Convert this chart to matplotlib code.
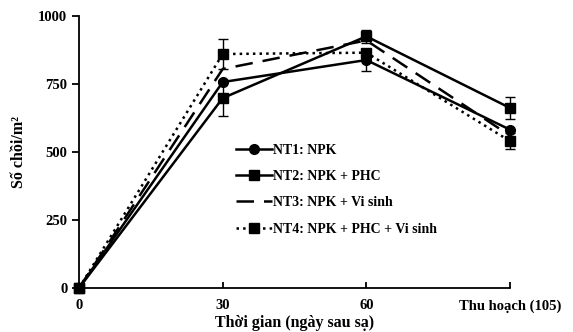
import matplotlib.pyplot as plt
from matplotlib.lines import Line2D
import numpy as np

plt.rcParams['font.family'] = 'Liberation Serif'
plt.rcParams['font.weight'] = 'bold'

# thoi diem (ngay sau sa)
nhan_x = ['0', '30', '60', 'Thu hoạch (105)']
x = np.arange(len(nhan_x))

nt1 = [0, 757, 838, 582]
nt2 = [0, 698, 925, 662]
nt3 = [0, 805, 910, 560]
nt4 = [0, 860, 865, 540]

sai1 = [0, 0, 40, 0]
sai2 = [0, 65, 25, 40]
sai4 = [0, 55, 0, 30]

fig = plt.figure(figsize=(5.73, 3.32), dpi=100)
ax = fig.add_axes([0.138, 0.1325, 0.752, 0.8195])

kw = dict(color='black', lw=1.8, capsize=3.5, elinewidth=1, capthick=1)
for art in [ax.errorbar(x, nt1, yerr=sai1, marker='o', ms=7, **kw),
            ax.errorbar(x, nt2, yerr=sai2, marker='s', ms=7, **kw),
            ax.errorbar(x, nt4, yerr=sai4, ls=':', marker='s', ms=7, **kw)]:
    for a in art.get_children():
        a.set_clip_on(False)
ax.plot(x, nt3, color='black', lw=1.8, ls=(0, (7, 4)), clip_on=False)

ax.set_xlim(0, 3)
ax.set_ylim(0, 1000)
ax.set_yticks([0, 250, 500, 750, 1000])
ax.set_xticks(x)
ax.set_xticklabels(nhan_x)
ax.spines['top'].set_visible(False)
ax.spines['right'].set_visible(False)
ax.spines['left'].set_linewidth(1.3)
ax.spines['bottom'].set_linewidth(1.3)
ax.tick_params(axis='x', direction='in', labelsize=10.5, length=4, width=1.3, pad=8)
ax.tick_params(axis='y', direction='out', labelsize=10.5, length=5, width=1.3)

ax.set_ylabel('Số chồi/m²', fontsize=11.5, fontweight='bold', labelpad=8)
ax.set_xlabel('Thời gian (ngày sau sạ)', fontsize=11.5, fontweight='bold', labelpad=2)

handles = [
    Line2D([], [], color='black', lw=1.8, marker='o', ms=7),
    Line2D([], [], color='black', lw=1.8, marker='s', ms=7),
    Line2D([], [], color='black', lw=1.8, ls=(0, (7, 4))),
    Line2D([], [], color='black', lw=1.8, ls=':', marker='s', ms=7),
]
labels = ['NT1: NPK', 'NT2: NPK + PHC', 'NT3: NPK + Vi sinh', 'NT4: NPK + PHC + Vi sinh']
ax.legend(handles, labels, loc='upper left', bbox_to_anchor=(0.348, 0.555),
          frameon=False, fontsize=10, handlelength=2.6, labelspacing=0.95,
          handletextpad=0.05, borderpad=0)

plt.savefig('out.png', dpi=100)
